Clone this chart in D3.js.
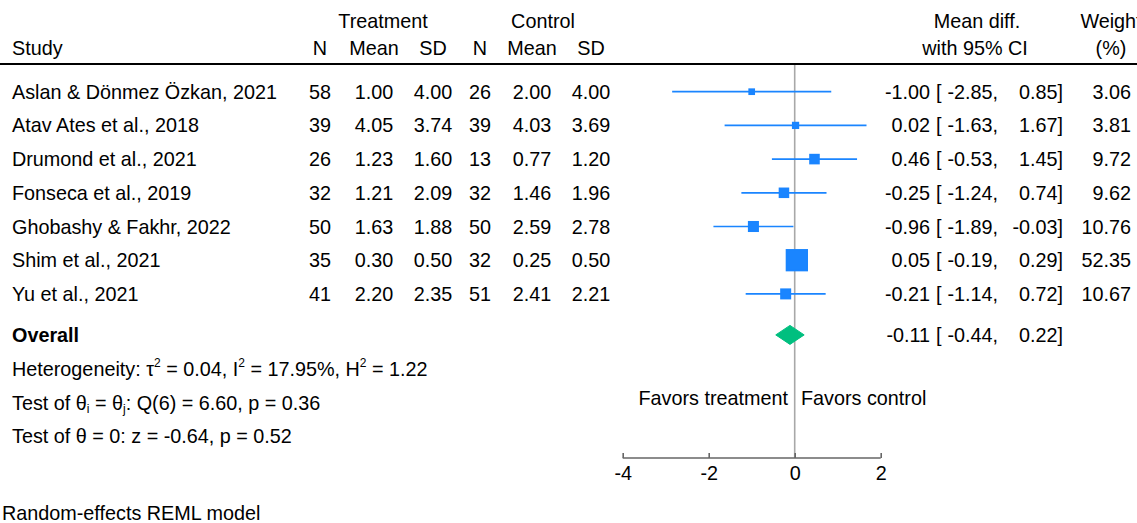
<!DOCTYPE html>
<meta charset="utf-8">
<style>
body { margin: 0; background: #fff; }
text { font-family: "Liberation Sans", Arial, sans-serif; font-size: 19.8px; fill: #000; }
</style>
<svg width="1137" height="523"></svg>
<script src="https://d3js.org/d3.v7.min.js"></script>
<script>

// study rows
var studies = ["Aslan & Dönmez Özkan, 2021", "Atav Ates et al., 2018", "Drumond et al., 2021",
               "Fonseca et al., 2019", "Ghobashy & Fakhr, 2022", "Shim et al., 2021", "Yu et al., 2021"];
var treatN    = [58, 39, 26, 32, 50, 35, 41];
var treatMean = [1.00, 4.05, 1.23, 1.21, 1.63, 0.30, 2.20];
var treatSD   = [4.00, 3.74, 1.60, 2.09, 1.88, 0.50, 2.35];
var ctrlN     = [26, 39, 13, 32, 50, 32, 51];
var ctrlMean  = [2.00, 4.03, 0.77, 1.46, 2.59, 0.25, 2.41];
var ctrlSD    = [4.00, 3.69, 1.20, 1.96, 2.78, 0.50, 2.21];
var meanDiff  = [-1.00, 0.02, 0.46, -0.25, -0.96, 0.05, -0.21];
var ciLow     = [-2.85, -1.63, -0.53, -1.24, -1.89, -0.19, -1.14];
var ciHigh    = [0.85, 1.67, 1.45, 0.74, -0.03, 0.29, 0.72];
var weights   = [3.06, 3.81, 9.72, 9.62, 10.76, 52.35, 10.67];

var overall = [-0.11, -0.44, 0.22]; // estimate, low, high
var xTicks = [-4, -2, 0, 2];

var svg = d3.select("svg");

var x = d3.scaleLinear().domain([-4, 2]).range([622.7, 880.7]);
var y = d3.scaleLinear().domain([0, 1]).range([91.7, 125.4]);
var side = d3.scaleSqrt().domain([0, d3.max(weights)]).range([0, 20.6]);

var blue = "#1a85ff";
var green = "#00bf7f";
var yOverall = y(6) + 41;

var fmt = function(v) { return v.toFixed(2); };

// ---- header ----
function txt(xp, yp, s, anchor) {
  return svg.append("text").attr("x", xp).attr("y", yp)
            .attr("text-anchor", anchor || "start").text(s);
}
txt(383, 28, "Treatment", "middle");
txt(543, 28, "Control", "middle");
txt(12, 55, "Study");
var colX = [320, 374, 433, 480, 532, 591];
["N", "Mean", "SD", "N", "Mean", "SD"].forEach(function(h, i) { txt(colX[i], 55, h, "middle"); });
txt(977, 28, "Mean diff.", "middle");
txt(975, 55, "with 95% CI", "middle");
txt(1111, 28, "Weight", "middle");
txt(1111, 55, "(%)", "middle");

svg.append("line").attr("x1", 0).attr("x2", 1137).attr("y1", 64).attr("y2", 64)
   .attr("stroke", "#000").attr("stroke-width", 2);

// ---- zero line ----
svg.append("line").attr("x1", x(0)).attr("x2", x(0)).attr("y1", 65).attr("y2", 458)
   .attr("stroke", "#a8a8a8").attr("stroke-width", 1.6);

// ---- study rows ----
var rows = svg.selectAll("g.row").data(studies).enter().append("g").attr("class", "row");

rows.append("text").attr("x", 12).attr("y", function(d, i) { return y(i) + 7; }).text(function(d) { return d; });

var cols = [treatN, treatMean, treatSD, ctrlN, ctrlMean, ctrlSD];
cols.forEach(function(arr, c) {
  rows.append("text")
      .attr("x", colX[c])
      .attr("y", function(d, i) { return y(i) + 7; })
      .attr("text-anchor", "middle")
      .text(function(d, i) { return (c == 0 || c == 3) ? arr[i] : fmt(arr[i]); });
});

rows.append("line")
    .attr("x1", function(d, i) { return x(ciLow[i]); })
    .attr("x2", function(d, i) { return x(ciHigh[i]); })
    .attr("y1", function(d, i) { return y(i); })
    .attr("y2", function(d, i) { return y(i); })
    .attr("stroke", blue).attr("stroke-width", 1.7);

rows.append("rect")
    .attr("x", function(d, i) { return x(meanDiff[i]) - side(weights[i]) / 2; })
    .attr("y", function(d, i) { return y(i) - side(weights[i]) / 2; })
    .attr("width", function(d, i) { return side(weights[i]); })
    .attr("height", function(d, i) { return side(weights[i]); })
    .attr("fill", blue).attr("stroke", blue).attr("stroke-width", 1.7);

function ciText(g, yp, est, lo, hi) {
  g.append("text").attr("x", 930).attr("y", yp).attr("text-anchor", "end").text(fmt(est));
  g.append("text").attr("x", 936).attr("y", yp).text("[");
  g.append("text").attr("x", 998).attr("y", yp).attr("text-anchor", "end").text(fmt(lo) + ",");
  g.append("text").attr("x", 1063).attr("y", yp).attr("text-anchor", "end").text(fmt(hi) + "]");
}
rows.each(function(d, i) {
  var g = d3.select(this);
  ciText(g, y(i) + 7, meanDiff[i], ciLow[i], ciHigh[i]);
  g.append("text").attr("x", 1131).attr("y", y(i) + 7).attr("text-anchor", "end").text(fmt(weights[i]));
});

// ---- overall ----
svg.append("text").attr("x", 12).attr("y", yOverall + 7).attr("font-weight", "bold").text("Overall");
svg.append("polygon")
   .attr("points", [[x(overall[1]), yOverall], [x(overall[0]), yOverall - 9.5],
                    [x(overall[2]), yOverall], [x(overall[0]), yOverall + 9.5]].join(" "))
   .attr("fill", green).attr("stroke", green).attr("stroke-width", 1);
ciText(svg, yOverall + 7, overall[0], overall[1], overall[2]);

// ---- stats text ----
var het = svg.append("text").attr("x", 12).attr("y", 376);
het.append("tspan").text("Heterogeneity: τ");
het.append("tspan").attr("font-size", "12px").attr("dy", -9).text("2");
het.append("tspan").attr("dy", 9).text(" = 0.04, I");
het.append("tspan").attr("font-size", "12px").attr("dy", -9).text("2");
het.append("tspan").attr("dy", 9).text(" = 17.95%, H");
het.append("tspan").attr("font-size", "12px").attr("dy", -9).text("2");
het.append("tspan").attr("dy", 9).text(" = 1.22");

var tq = svg.append("text").attr("x", 12).attr("y", 410);
tq.append("tspan").text("Test of θ");
tq.append("tspan").attr("font-size", "12px").attr("dy", 3).text("i");
tq.append("tspan").attr("dy", -3).text(" = θ");
tq.append("tspan").attr("font-size", "12px").attr("dy", 3).text("j");
tq.append("tspan").attr("dy", -3).text(": Q(6) = 6.60, p = 0.36");

txt(12, 443, "Test of θ = 0: z = -0.64, p = 0.52");

txt(788, 405, "Favors treatment", "end");
txt(801, 405, "Favors control");

// ---- axis ----
var axis = svg.append("g").attr("transform", "translate(0,458)")
   .call(d3.axisTop(x).tickValues(xTicks).tickSize(5).tickFormat(function(d) { return d < 0 ? "-" + Math.abs(d) : d; }));
axis.select(".domain").attr("stroke", "#666").attr("stroke-width", 1.6).attr("d", "M" + x(-4) + ",0H" + x(2));
axis.selectAll(".tick line").attr("stroke", "#666").attr("stroke-width", 1.6);
axis.selectAll(".tick text")
    .attr("y", 22).attr("dy", 0)
    .attr("font-family", "Liberation Sans, Arial, sans-serif")
    .attr("font-size", "19.8px").attr("fill", "#000");

txt(2, 520, "Random-effects REML model");

</script>
